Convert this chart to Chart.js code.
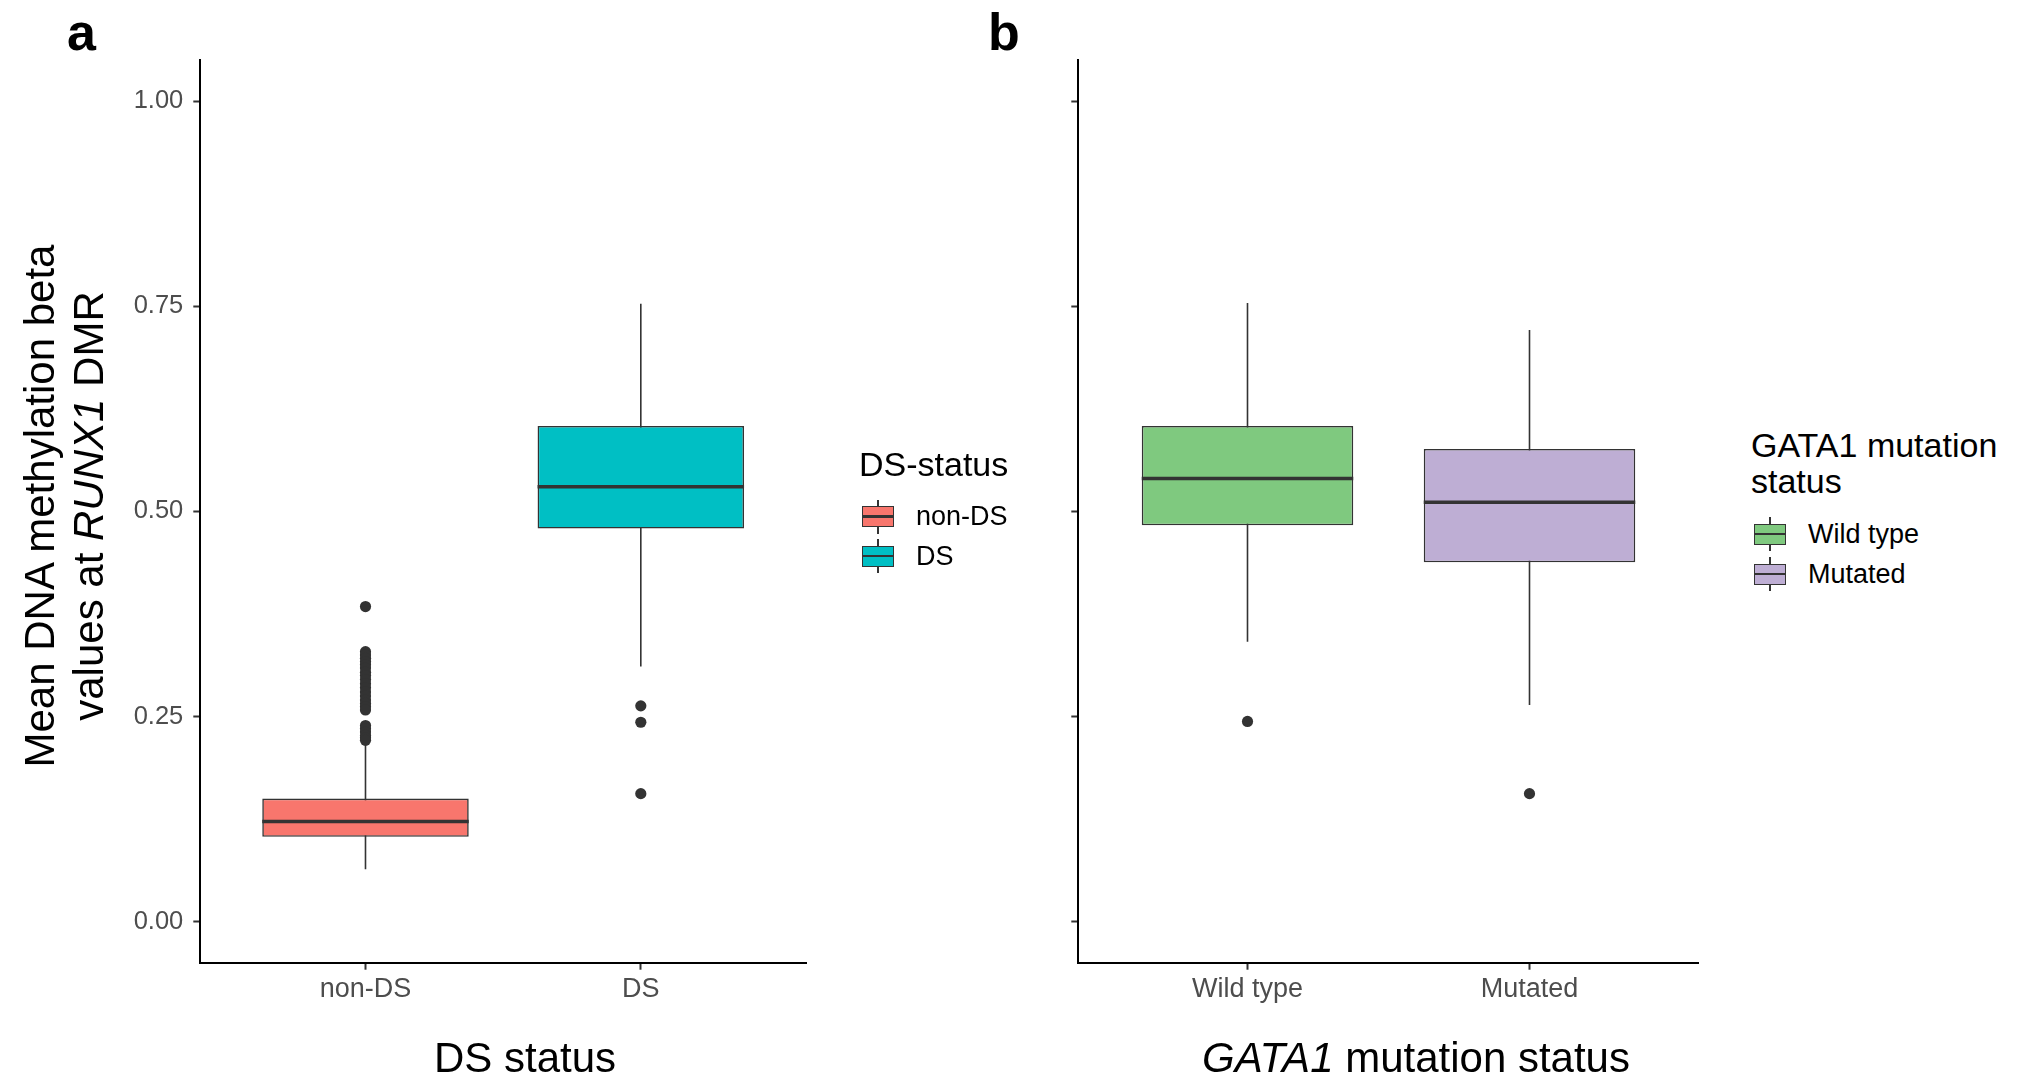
<!DOCTYPE html>
<html>
<head>
<meta charset="utf-8">
<title>RUNX1 DMR methylation by DS and GATA1 status</title>
<script src="https://cdn.jsdelivr.net/npm/chart.js@4.4.1/dist/chart.umd.min.js"></script>
<style>
    html, body { margin: 0; padding: 0; background: #fff; }
    body {
        width: 2034px; height: 1079px; position: relative; overflow: hidden;
        font-family: 'Liberation Sans', Arial, Helvetica, sans-serif; color: #000;
    }
    canvas { position: absolute; top: 0; }
    #chartA { left: 0; }
    #chartB { left: 860px; }
    .txt { position: absolute; white-space: nowrap; z-index: 2; }
    .panel-tag { font-weight: bold; font-size: 52px; line-height: 52px; }
    .axis-title { font-size: 42px; line-height: 42px; text-align: center; }
    .y-title {
        font-size: 42px; line-height: 49px; text-align: center;
        width: 700px; height: 98px;
        transform-origin: 50% 50%; transform: translate(-50%, -50%) rotate(-90deg);
    }
    .legend-title { font-size: 34px; line-height: 36px; }
    .legend-label { font-size: 27px; line-height: 27px; }
    .key { position: absolute; width: 32px; height: 34px; z-index: 2; }
    .key .whisker { position: absolute; left: 15.2px; top: 0; width: 1.6px; height: 34px; background: #333; }
    .key .box { position: absolute; left: 0; top: 6.5px; width: 32px; height: 21px; box-sizing: border-box; border: 1.6px solid #333; }
    .key .mid { position: absolute; left: 0; top: 15.8px; width: 32px; height: 2.4px; background: #333; }
</style>
</head>
<body>
<canvas id="chartA" width="830" height="1079"></canvas>
<canvas id="chartB" width="860" height="1079"></canvas>

<div class="txt panel-tag" style="left:67px; top:6px;">a</div>
<div class="txt panel-tag" style="left:988px; top:6px;">b</div>

<div class="txt y-title" style="left:63.5px; top:506px;">Mean DNA methylation beta<br>values at <i>RUNX1</i> DMR</div>
<div class="txt axis-title" style="left:525px; top:1037px; transform:translateX(-50%);">DS status</div>
<div class="txt axis-title" style="left:1416px; top:1037px; transform:translateX(-50%);"><i>GATA1</i> mutation status</div>

<div id="legendA"></div>
<div id="legendB"></div>

<script>
// ---- data ----
const yTicks = [0, 0.25, 0.5, 0.75, 1];

// panel a: DS status
const dsCategories = ['non-DS', 'DS'];
const dsLower = [0.064, 0.311];
const dsQ1 = [0.1035, 0.479];
const dsMedian = [0.122, 0.530];
const dsQ3 = [0.150, 0.604];
const dsUpper = [0.217, 0.753];
const dsOutliers = [
    [0.384, 0.329, 0.325, 0.321, 0.317, 0.313, 0.309, 0.304, 0.300, 0.295, 0.290, 0.285,
     0.280, 0.275, 0.270, 0.266, 0.262, 0.258, 0.239, 0.235, 0.231, 0.227, 0.224, 0.221],
    [0.263, 0.243, 0.156]
];

// panel b: GATA1 mutation status
const gataCategories = ['Wild type', 'Mutated'];
const gataLower = [0.341, 0.264];
const gataQ1 = [0.483, 0.438];
const gataMedian = [0.540, 0.511];
const gataQ3 = [0.604, 0.576];
const gataUpper = [0.754, 0.721];
const gataOutliers = [[0.244], [0.156]];

// ---- styling ----
const INK = '#333333';
const dsFills = ['#F8766D', '#00BFC4'];
const gataFills = ['#7FC97F', '#BEAED4'];
const BOX_WIDTH = 0.75;
const PLOT_TOP = 60;
const PLOT_BOTTOM = 962.7;

Chart.defaults.font.family = "'Liberation Sans', Arial, Helvetica, sans-serif";

/**
 * Build one ggplot-like box plot panel
 */
function buildBoxChart(canvasId, p) {
    const xs = p.categories.map((c, i) => i + 1);
    const datasets = [];

    p.categories.forEach((c, i) => {
        // whisker, drawn underneath the box
        datasets.push({
            type: 'line',
            data: [{ x: xs[i], y: p.lower[i] }, { x: xs[i], y: p.upper[i] }],
            borderColor: INK, borderWidth: 1.6, pointRadius: 0, order: 3
        });
        // median bar
        datasets.push({
            type: 'line',
            data: [{ x: xs[i] - BOX_WIDTH / 2, y: p.median[i] }, { x: xs[i] + BOX_WIDTH / 2, y: p.median[i] }],
            borderColor: INK, borderWidth: 3.6, pointRadius: 0, order: 1
        });
    });

    datasets.push({
        type: 'bar',
        data: xs.map((x, i) => ({ x: x, y: [p.q1[i], p.q3[i]] })),
        backgroundColor: p.fills,
        borderColor: INK,
        borderWidth: 1.6,
        borderSkipped: false,
        barPercentage: BOX_WIDTH,
        categoryPercentage: 1,
        order: 2
    });

    datasets.push({
        type: 'scatter',
        data: p.outliers.flatMap((vals, i) => vals.map(v => ({ x: xs[i], y: v }))),
        pointRadius: 5.6,
        pointBackgroundColor: INK,
        pointBorderWidth: 0,
        showLine: false,
        order: 0
    });

    const canvas = document.getElementById(canvasId);
    const tickGrid = {
        display: true,
        drawOnChartArea: false,
        drawTicks: true,
        tickLength: 7,
        tickColor: INK,
        tickWidth: 2,
        offset: false
    };

    return new Chart(canvas.getContext('2d'), {
        type: 'bar',
        data: { datasets: datasets },
        options: {
            responsive: false,
            animation: false,
            events: [],
            layout: { padding: { top: PLOT_TOP, right: p.rightPad, left: 0, bottom: 0 } },
            plugins: { legend: { display: false }, tooltip: { enabled: false } },
            scales: {
                x: {
                    type: 'linear',
                    min: 0.4,
                    max: 2.6,
                    offset: false,
                    afterBuildTicks: s => { s.ticks = xs.map(v => ({ value: v })); },
                    afterFit: s => { s.height = canvas.height - PLOT_BOTTOM; },
                    grid: tickGrid,
                    border: { display: true, color: '#000', width: 2 },
                    ticks: {
                        color: '#4d4d4d',
                        font: { size: 27 },
                        padding: 4,
                        maxRotation: 0,
                        autoSkip: false,
                        callback: v => p.categories[Math.round(v) - 1]
                    }
                },
                y: {
                    type: 'linear',
                    min: -0.05,
                    max: 1.05,
                    afterBuildTicks: s => { s.ticks = yTicks.map(v => ({ value: v })); },
                    afterFit: s => { s.width = p.yAxisWidth; },
                    grid: tickGrid,
                    border: { display: true, color: '#000', width: 2 },
                    ticks: {
                        color: '#4d4d4d',
                        font: { size: 25.5 },
                        padding: 10,
                        callback: v => p.showYLabels ? v.toFixed(2) : ''
                    }
                }
            }
        }
    });
}

/**
 * Build an HTML legend with boxplot keys
 */
function buildLegend(containerId, cfg) {
    const el = document.getElementById(containerId);
    let html = `<div class="txt legend-title" style="left:${cfg.left}px; top:${cfg.titleTop}px;">${cfg.title}</div>`;
    cfg.labels.forEach((label, i) => {
        const cy = cfg.firstKeyY + i * cfg.keyStep;
        html += `
            <div class="key" style="left:${cfg.left + 3}px; top:${cy - 17}px;">
                <div class="whisker"></div>
                <div class="box" style="background:${cfg.fills[i]};"></div>
                <div class="mid"></div>
            </div>
            <div class="txt legend-label" style="left:${cfg.left + 57}px; top:${cy - 13.5}px;">${label}</div>`;
    });
    el.innerHTML = html;
}

buildBoxChart('chartA', {
    categories: dsCategories,
    lower: dsLower, q1: dsQ1, median: dsMedian, q3: dsQ3, upper: dsUpper,
    outliers: dsOutliers, fills: dsFills,
    showYLabels: true, yAxisWidth: 200.3, rightPad: 24
});

buildBoxChart('chartB', {
    categories: gataCategories,
    lower: gataLower, q1: gataQ1, median: gataMedian, q3: gataQ3, upper: gataUpper,
    outliers: gataOutliers, fills: gataFills,
    showYLabels: false, yAxisWidth: 218.3, rightPad: 21.3
});

buildLegend('legendA', {
    title: 'DS-status', labels: dsCategories, fills: dsFills,
    left: 859, titleTop: 446, firstKeyY: 516.5, keyStep: 39.5
});

buildLegend('legendB', {
    title: 'GATA1 mutation<br>status', labels: gataCategories, fills: gataFills,
    left: 1751, titleTop: 427, firstKeyY: 534, keyStep: 40
});
</script>
</body>
</html>
